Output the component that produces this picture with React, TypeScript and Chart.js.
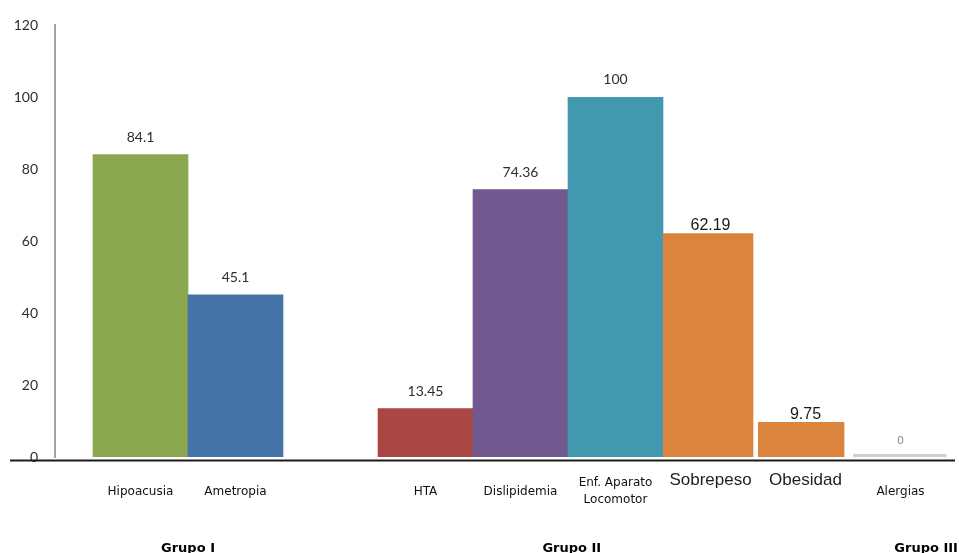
import { useEffect, useRef } from "react";
import { Chart, registerables } from "chart.js";

Chart.register(...registerables);

// Conditions, their slot on the horizontal axis and the percentage for each
const categories = [
  "Hipoacusia",
  "Ametropia",
  "HTA",
  "Dislipidemia",
  "Enf. Aparato\nLocomotor",
  "Sobrepeso",
  "Obesidad",
  "Alergias",
];
const slots = [1, 2, 4, 5, 6, 7, 8, 9];
const values = [84.1, 45.1, 13.45, 74.36, 100, 62.19, 9.75, 0];
const barColors = [
  "#8AA64E",
  "#4572A7",
  "#AA4643",
  "#71588F",
  "#4198AF",
  "#DB843D",
  "#DB843D",
  "#CFCFCF",
];

// Group captions under the category labels, centred on a slot position
const groupNames = ["Grupo I", "Grupo II", "Grupo III"];
const groupCenters = [1.5, 5.54, 9.27];

const yMin = 0;
const yMax = 120;
const yStep = 20;

// Labels drawn in the larger font
const emphasized = new Set(["Sobrepeso", "Obesidad"]);
// White strip on the right of some bars (px)
const rightGaps: Record<string, number> = { Sobrepeso: 5, Obesidad: 9, Alergias: 2 };

const valueLabelsPlugin = {
  id: "valueLabels",
  afterDatasetsDraw(chart: any) {
    const ctx = chart.ctx;
    const meta = chart.getDatasetMeta(0);
    meta.data.forEach((bar: any, i: number) => {
      const name = categories[i];
      const top = Math.min(bar.y, bar.base);
      let font = '14px Lato';
      let color = "#2e2e2e";
      let gap = 13;
      if (emphasized.has(name)) {
        font = '16px "Liberation Sans"';
        color = "#1a1a1a";
        gap = 3;
      } else if (values[i] === 0) {
        font = '11px "DejaVu Sans"';
        color = "#8a8a8a";
        gap = 10;
      }
      ctx.save();
      ctx.font = font;
      ctx.fillStyle = color;
      ctx.textAlign = "center";
      ctx.textBaseline = "alphabetic";
      ctx.fillText(String(values[i]), bar.x, top - gap);
      ctx.restore();
    });
  },
};

const axisLabelsPlugin = {
  id: "axisLabels",
  afterDraw(chart: any) {
    const ctx = chart.ctx;
    const xs = chart.scales.x;
    const { left, right, bottom } = chart.chartArea;

    // baseline rule across the whole width
    ctx.save();
    ctx.strokeStyle = "#1c1c1c";
    ctx.lineWidth = 2;
    ctx.beginPath();
    ctx.moveTo(left - 45, bottom + 3.5);
    ctx.lineTo(right + 7, bottom + 3.5);
    ctx.stroke();
    ctx.restore();

    // category labels
    categories.forEach((name, i) => {
      const x = xs.getPixelForValue(slots[i]);
      ctx.save();
      ctx.textAlign = "center";
      ctx.textBaseline = "alphabetic";
      if (emphasized.has(name)) {
        ctx.font = '17px "Liberation Sans"';
        ctx.fillStyle = "#1e1e1e";
        ctx.fillText(name, x, bottom + 28);
      } else {
        ctx.font = '12px "DejaVu Sans"';
        ctx.fillStyle = "#111111";
        const lines = name.split("\n");
        const lh = 16.5;
        const center = bottom + 33;
        lines.forEach((line, k) => {
          const y = center + (k - (lines.length - 1) / 2) * lh + 4.5;
          ctx.fillText(line, x, y);
        });
      }
      ctx.restore();
    });

    // group captions
    groupNames.forEach((g, i) => {
      const x = xs.getPixelForValue(groupCenters[i]);
      ctx.save();
      ctx.font = 'bold 13px "DejaVu Sans"';
      ctx.fillStyle = "#000000";
      ctx.textAlign = "center";
      ctx.textBaseline = "alphabetic";
      ctx.fillText(g, x, bottom + 95);
      ctx.restore();
    });
  },
};

export default function App() {
  const ref = useRef<HTMLCanvasElement>(null);

  useEffect(() => {
    if (!ref.current) return;
    const chart = new Chart(ref.current, {
      type: "bar",
      data: {
        datasets: [
          {
            data: slots.map((s, i) => ({ x: s, y: values[i] })),
            backgroundColor: barColors,
            borderColor: "#ffffff",
            borderWidth: (c: any) => ({
              top: 0,
              bottom: 0,
              left: 0,
              right: rightGaps[categories[c.dataIndex]] ?? 0,
            }),
            barPercentage: 1,
            categoryPercentage: 1,
            minBarLength: 3,
          } as any,
        ],
      },
      options: {
        animation: false,
        responsive: false,
        devicePixelRatio: 1,
        layout: { padding: { top: 25, right: 11, bottom: 96, left: 0 } },
        plugins: {
          legend: { display: false },
          tooltip: { enabled: false },
        },
        scales: {
          x: {
            type: "linear",
            display: false,
            offset: false,
            min: 0.1,
            max: 9.5,
            ticks: { stepSize: 1, includeBounds: false },
          },
          y: {
            min: yMin,
            max: yMax,
            grid: { display: false, drawTicks: false },
            border: { display: true, color: "#a3a3a3", width: 2 },
            ticks: {
              stepSize: yStep,
              padding: 17,
              color: "#2e2e2e",
              font: { family: "Lato", size: 14 },
            },
            afterFit: (scale: any) => {
              scale.width = 55;
            },
          },
        },
      } as any,
      plugins: [valueLabelsPlugin, axisLabelsPlugin],
    });
    return () => chart.destroy();
  }, []);

  return (
    <canvas
      ref={ref}
      width={959}
      height={553}
      style={{ position: "fixed", left: 0, top: 0, width: 959, height: 553, background: "#ffffff" }}
    />
  );
}
